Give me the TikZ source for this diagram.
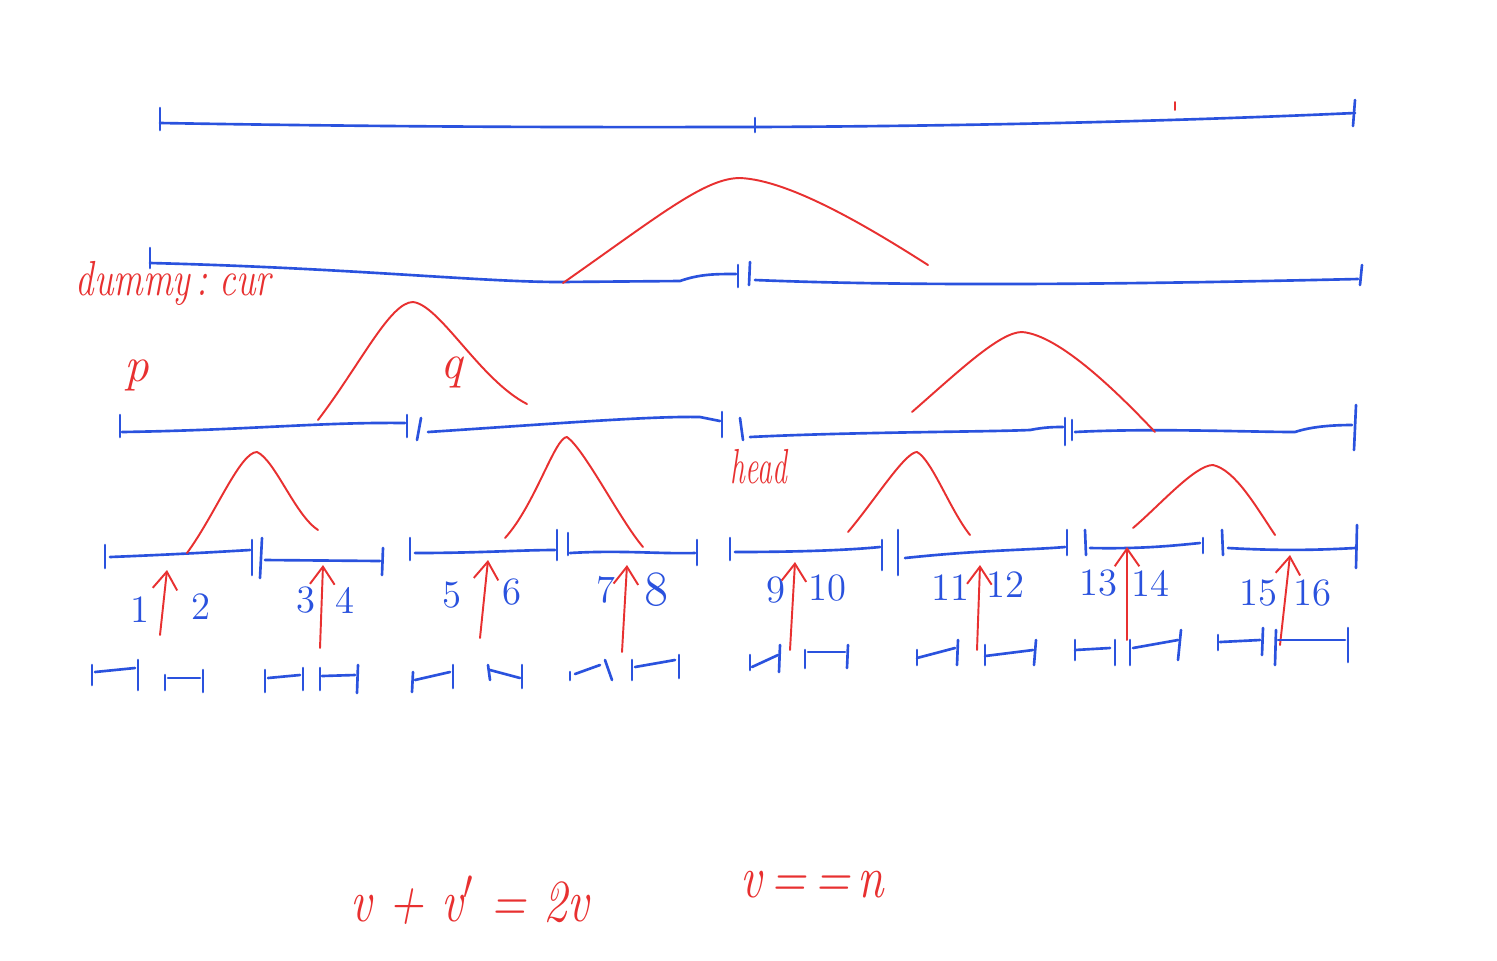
\documentclass[tikz,border=0pt]{standalone}
\usepackage{graphicx}
\usetikzlibrary{arrows.meta}
\definecolor{penblue}{RGB}{42,82,222}
\definecolor{penred}{RGB}{232,48,48}
\begin{document}
\begin{tikzpicture}[x=0.01cm,y=-0.01cm,
  blu/.style={draw=penblue,line width=0.75pt,line cap=round,line join=round},
  rd/.style={draw=penred,line width=0.55pt,line cap=round,line join=round},
  rdarrow/.style={rd,-{Straight Barb[length=5pt,width=7pt]}},
  num/.style={text=penblue,font=\fontsize{11}{13}\selectfont,inner sep=0pt},
  lab/.style={text=penred,font=\fontsize{14}{16}\selectfont\itshape,inner sep=0pt},
  frm/.style={text=penred,font=\fontsize{17}{19}\selectfont\itshape,inner sep=0pt}]
\useasboundingbox[fill=white] (0,0) rectangle (1497,960);

% ---------- row 1 ----------
\draw[blu] (160,108) -- (160,130);
\draw[blu] (160,123) .. controls (450,128) and (650,127) .. (755,127) .. controls (1000,126) and (1200,120) .. (1355,113);
\draw[blu] (755,118) -- (755,132);
\draw[blu] (1355,100) -- (1353,126);
\draw[rd] (1175,102) -- (1175,110);

% ---------- row 2 ----------
\draw[blu] (150,248) -- (150,268);
\draw[blu] (150,263) .. controls (350,268) and (480,282) .. (560,282) -- (680,281) .. controls (700,274) and (715,274) .. (736,274);
\draw[blu] (738,265) -- (738,287);
\draw[blu] (750,262) -- (749,285);
\draw[blu] (755,280) .. controls (900,286) and (1100,285) .. (1358,279);
\draw[blu] (1362,265) -- (1360,285);
\draw[rd] (563,283) .. controls (660,215) and (705,178) .. (740,178) .. controls (790,180) and (870,228) .. (928,265);
\node[lab,anchor=west] (dummy) at (75,283) {\scalebox{0.75}[1]{dummy\,:\,\,cur}};

% ---------- row 3 ----------
\draw[blu] (120,415) -- (120,437);
\draw[blu] (122,432) .. controls (250,430) and (320,422) .. (405,423);
\draw[blu] (407,415) -- (407,437);
\draw[blu] (421,418) -- (417,440);
\draw[blu] (428,432) .. controls (550,424) and (650,416) .. (700,417) -- (720,421);
\draw[blu] (722,412) -- (722,437);
\draw[blu] (740,418) -- (743,440);
\draw[blu] (750,437) .. controls (850,432) and (980,432) .. (1030,430) .. controls (1045,427) and (1055,427) .. (1063,427);
\draw[blu] (1065,418) -- (1065,445);
\draw[blu] (1072,420) -- (1072,440);
\draw[blu] (1075,432) .. controls (1150,428) and (1250,432) .. (1295,432) .. controls (1310,427) and (1330,425) .. (1352,425);
\draw[blu] (1356,405) -- (1354,450);
\draw[rd] (318,420) .. controls (360,365) and (390,302) .. (413,302) .. controls (440,305) and (480,380) .. (527,404);
\draw[rd] (912,412) .. controls (960,370) and (1000,332) .. (1022,332) .. controls (1060,335) and (1120,395) .. (1155,432);
\node[lab] (p) at (137,375) {p};
\node[lab] (q) at (452,372) {q};
\node[lab] (head) at (759,467) {\scalebox{0.6}[1]{head}};

% ---------- row 4 ----------
\draw[blu] (105,545) -- (105,568);
\draw[blu] (110,557) .. controls (160,555) and (200,553) .. (250,550);
\draw[blu] (252,540) -- (252,575);
\draw[blu] (262,538) -- (260,578);
\draw[blu] (265,560) -- (380,561);
\draw[blu] (383,548) -- (382,575);
\draw[blu] (410,538) -- (410,560);
\draw[blu] (415,553) .. controls (480,553) and (520,550) .. (555,550);
\draw[blu] (557,530) -- (557,560);
\draw[blu] (568,533) -- (568,555);
\draw[blu] (570,553) .. controls (620,550) and (660,554) .. (695,553);
\draw[blu] (697,540) -- (697,565);
\draw[blu] (730,538) -- (730,560);
\draw[blu] (735,552) .. controls (800,552) and (850,550) .. (880,547);
\draw[blu] (882,540) -- (882,570);
\draw[blu] (898,530) -- (898,575);
\draw[blu] (905,558) .. controls (980,550) and (1030,550) .. (1065,547);
\draw[blu] (1067,530) -- (1067,555);
\draw[blu] (1085,530) -- (1086,555);
\draw[blu] (1090,548) .. controls (1140,549) and (1170,546) .. (1200,543);
\draw[blu] (1203,538) -- (1203,553);
\draw[blu] (1222,530) -- (1223,555);
\draw[blu] (1228,548) .. controls (1280,551) and (1320,550) .. (1355,548);
\draw[blu] (1357,525) -- (1356,568);
\draw[rd] (187,553) .. controls (215,515) and (240,452) .. (257,452) .. controls (275,460) and (295,515) .. (318,530);
\draw[rd] (505,538) .. controls (535,505) and (555,437) .. (567,437) .. controls (585,450) and (620,520) .. (643,547);
\draw[rd] (848,532) .. controls (875,500) and (905,452) .. (917,452) .. controls (932,460) and (950,510) .. (970,535);
\draw[rd] (1133,528) .. controls (1160,505) and (1195,465) .. (1213,465) .. controls (1235,470) and (1255,505) .. (1275,535);

% numbers
\node[num] (n1) at (140,610) {1};
\node[num] (n2) at (201,607) {2};
\node[num] (n3) at (306,600) {3};
\node[num] (n4) at (345,600) {4};
\node[num] (n5) at (452,595) {5};
\node[num] (n6) at (512,592) {6};
\node[num] (n7) at (606,590) {7};
\node[num,font=\fontsize{14}{16}\selectfont] (n8) at (657,590) {8};
\node[num] (n9) at (776,590) {9};
\node[num] (n10) at (827,588) {10};
\node[num] (n11) at (950,588) {11};
\node[num] (n12) at (1005,585) {12};
\node[num] (n13) at (1098,583) {13};
\node[num] (n14) at (1150,583) {14};
\node[num] (n15) at (1258,593) {15};
\node[num] (n16) at (1312,593) {16};

% red arrows
\draw[rdarrow] (160,635) -- (167,570);
\draw[rdarrow] (320,648) -- (323,565);
\draw[rdarrow] (480,638) -- (488,560);
\draw[rdarrow] (622,652) -- (627,565);
\draw[rdarrow] (790,650) -- (795,562);
\draw[rdarrow] (977,650) -- (980,565);
\draw[rdarrow] (1127,640) -- (1127,547);
\draw[rdarrow] (1280,645) -- (1290,555);

% ---------- row 5 ----------
\draw[blu] (92,665) -- (92,685);
\draw[blu] (95,672) -- (135,668);
\draw[blu] (138,660) -- (138,690);
\draw[blu] (165,675) -- (165,690);
\draw[blu] (168,678) -- (200,678);
\draw[blu] (203,670) -- (203,692);
\draw[blu] (265,670) -- (265,692);
\draw[blu] (268,678) -- (300,675);
\draw[blu] (303,668) -- (303,690);
\draw[blu] (320,668) -- (320,690);
\draw[blu] (322,676) -- (355,675);
\draw[blu] (358,665) -- (357,693);
\draw[blu] (413,672) -- (412,692);
\draw[blu] (415,680) -- (450,672);
\draw[blu] (453,665) -- (453,688);
\draw[blu] (488,665) -- (490,680);
\draw[blu] (490,670) -- (520,678);
\draw[blu] (522,665) -- (522,688);
\draw[blu] (570,672) -- (570,680);
\draw[blu] (575,674) -- (600,665);
\draw[blu] (605,660) -- (612,680);
\draw[blu] (632,660) -- (632,680);
\draw[blu] (635,667) -- (675,660);
\draw[blu] (679,655) -- (679,678);
\draw[blu] (750,655) -- (750,670);
\draw[blu] (752,667) -- (778,655);
\draw[blu] (780,645) -- (779,672);
\draw[blu] (805,650) -- (805,668);
\draw[blu] (808,652) -- (845,652);
\draw[blu] (848,645) -- (847,668);
\draw[blu] (917,650) -- (917,665);
\draw[blu] (917,658) -- (955,648);
\draw[blu] (958,640) -- (957,665);
\draw[blu] (985,645) -- (985,665);
\draw[blu] (985,656) -- (1033,650);
\draw[blu] (1036,640) -- (1034,665);
\draw[blu] (1075,640) -- (1075,660);
\draw[blu] (1075,650) -- (1110,648);
\draw[blu] (1115,640) -- (1115,665);
\draw[blu] (1130,640) -- (1130,665);
\draw[blu] (1133,648) -- (1178,640);
\draw[blu] (1181,630) -- (1178,660);
\draw[blu] (1218,635) -- (1218,650);
\draw[blu] (1220,642) -- (1260,640);
\draw[blu] (1263,628) -- (1262,655);
\draw[blu] (1276,630) -- (1275,665);
\draw[blu] (1278,640) -- (1345,640);
\draw[blu] (1348,628) -- (1348,662);

% ---------- formulas ----------
\node[frm,anchor=west] (f1) at (350,900) {\scalebox{0.8}[1]{v + v$'$ = 2v}};
\node[frm,anchor=west] (f2) at (740,885) {\scalebox{0.8}[1]{v\,=\,=\,n}};
\end{tikzpicture}
\end{document}
